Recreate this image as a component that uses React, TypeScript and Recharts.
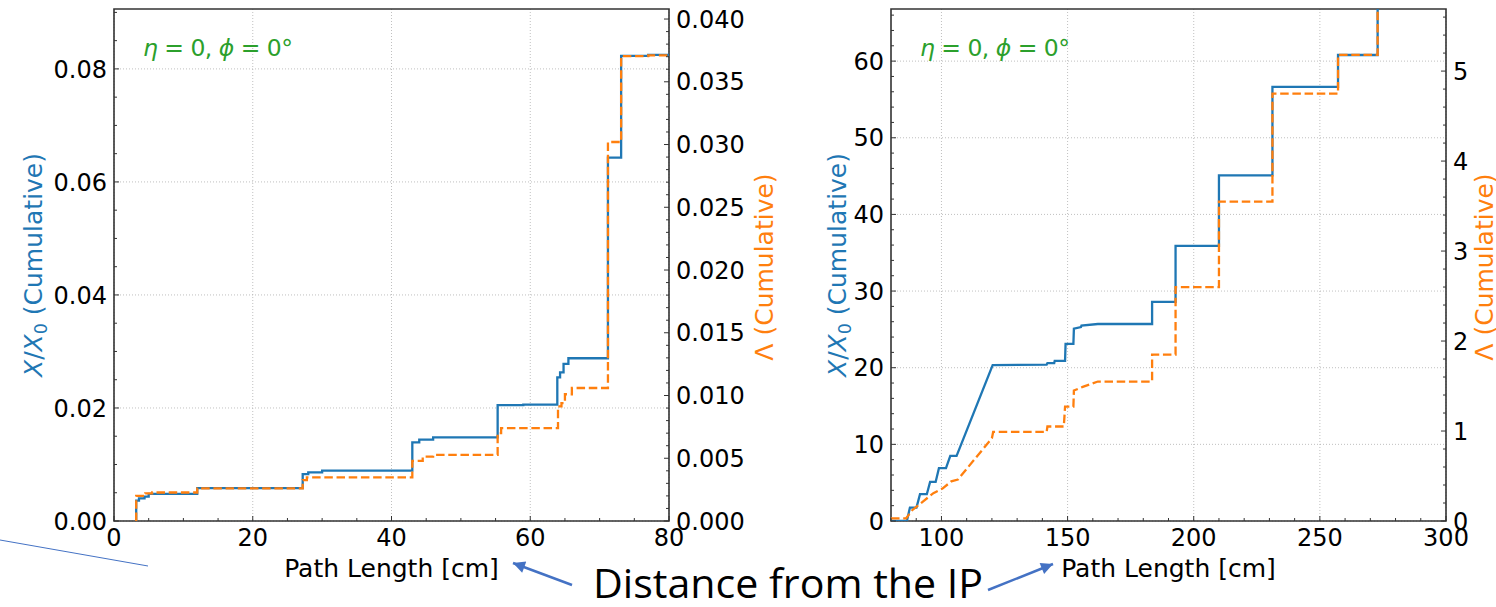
import React from 'react';
import { CartesianGrid, Line, LineChart, ReferenceArea, XAxis, YAxis } from 'recharts';

const BLUE = '#1f77b4';
const ORANGE = '#ff7f0e';
const GREEN = '#2ca02c';
const ARROW = '#4472c4';
const SPINE = '#333333';
const GRID = '#b0b0b0';
const FONT = '"DejaVu Sans", Verdana, sans-serif';

// ---- left panel (0-80 cm): step points, value holds from x onward
const innerPath = [3.2, 3.2, 3.6, 4.4, 5.0, 12.0, 27.2, 28.0, 30.0, 43.0, 44.0, 46.0, 55.3, 59.0, 63.9, 64.3, 64.8, 65.5, 71.2, 73.1, 77.0, 80.0];
const innerX0 = [0, 0.0036, 0.004, 0.0043, 0.0048, 0.0058, 0.0083, 0.0086, 0.0089, 0.0139, 0.0144, 0.0148, 0.0205, 0.0206, 0.0254, 0.0263, 0.0278, 0.0288, 0.0643, 0.0823, 0.0825, 0.0827];
const innerPathL = [3.2, 3.2, 4.5, 5.5, 12.0, 27.2, 27.8, 43.0, 44.5, 46.0, 55.3, 55.8, 64.0, 64.5, 65.0, 66.0, 71.2, 73.1, 77.0, 80.0];
const innerLambda = [0, 0.002, 0.0022, 0.00227, 0.0026, 0.00326, 0.00348, 0.00479, 0.00513, 0.00527, 0.007, 0.0074, 0.00914, 0.0094, 0.0101, 0.0106, 0.0302, 0.03705, 0.0371, 0.0372];

// ---- right panel (80-300 cm): polyline corners
const outerPath = [80, 86.3, 87.5, 90.1, 91.5, 94.2, 95.5, 97.7, 99.0, 101.8, 103.5, 106.0, 120.3, 141.7, 142.0, 144.7, 144.9, 149.0, 149.2, 152.3, 152.5, 155.3, 155.5, 162.0, 183.5, 183.5, 192.8, 192.8, 210.0, 210.0, 231.2, 231.2, 257.2, 257.2, 272.9, 272.9];
const outerX0 = [0, 0, 1.75, 1.75, 3.5, 3.5, 5.1, 5.1, 6.9, 6.9, 8.5, 8.5, 20.35, 20.4, 20.6, 20.6, 20.9, 20.9, 23.1, 23.1, 25.1, 25.3, 25.5, 25.7, 25.7, 28.6, 28.6, 35.9, 35.9, 45.1, 45.1, 56.65, 56.65, 60.8, 60.8, 80];
const outerPathL = [80, 86.0, 88.4, 92.4, 96.8, 100.4, 103.9, 106.5, 120.0, 120.5, 141.7, 142.0, 148.5, 149.0, 152.3, 152.5, 156.0, 162.0, 183.5, 183.5, 192.8, 192.8, 210.0, 210.0, 231.2, 231.2, 257.2, 257.2, 272.9, 272.9];
const outerLambda = [0.03, 0.03, 0.12, 0.21, 0.31, 0.36, 0.44, 0.46, 0.92, 0.99, 0.99, 1.05, 1.05, 1.27, 1.27, 1.45, 1.49, 1.55, 1.55, 1.85, 1.85, 2.6, 2.6, 3.55, 3.55, 4.75, 4.75, 5.18, 5.18, 7];

// ---- axes
const innerXTicks = [0, 20, 40, 60, 80];
const innerX0Ticks = [0, 0.02, 0.04, 0.06, 0.08];
const innerLambdaTicks = [0, 0.005, 0.01, 0.015, 0.02, 0.025, 0.03, 0.035, 0.04];
const outerXTicks = [100, 150, 200, 250, 300];
const outerX0Ticks = [0, 10, 20, 30, 40, 50, 60];
const outerLambdaTicks = [0, 1, 2, 3, 4, 5];

const range = (a: number, b: number, step: number) => {
  const out: number[] = [];
  for (let i = 0; a + i * step <= b + 1e-9; i++) out.push(+(a + i * step).toFixed(6));
  return out;
};

const zip = (xs: number[], ys: number[]) => xs.map((x, i) => ({ x, y: ys[i] }));

const isMajor = (majors: number[], v: number) => majors.some((m) => Math.abs(m - v) < 1e-7);

function makeTick(side: 'bottom' | 'left' | 'right', spine: number, majors: number[], fmt: (v: number) => string) {
  return (props: any) => {
    const { x, y, payload } = props;
    const v = payload.value;
    const major = isMajor(majors, v);
    const len = major ? 5 : 3;
    const text = { fontFamily: FONT, fontSize: 24, fill: '#000' };
    if (side === 'bottom') {
      return (
        <g>
          <line x1={x} x2={x} y1={spine} y2={spine - len} stroke={SPINE} strokeWidth={1} />
          {major && (
            <text x={x} y={spine + 25} textAnchor="middle" {...text}>
              {fmt(v)}
            </text>
          )}
        </g>
      );
    }
    const dir = side === 'left' ? 1 : -1;
    return (
      <g>
        <line x1={spine} x2={spine + dir * len} y1={y} y2={y} stroke={SPINE} strokeWidth={1} />
        {major && (
          <text x={spine - dir * 7} y={y + 8.6} textAnchor={side === 'left' ? 'end' : 'start'} {...text}>
            {fmt(v)}
          </text>
        )}
      </g>
    );
  };
}

function X0Title({ bx }: { bx: number }) {
  return (
    <text x={bx} y={265} transform={`rotate(-90 ${bx} 265)`} textAnchor="middle" fontFamily={FONT} fontSize={25} fill={BLUE}>
      <tspan fontStyle="italic">X</tspan>/<tspan fontStyle="italic">X</tspan>
      <tspan fontSize={17.5} dy={5}>0</tspan>
      <tspan dy={-5}> (Cumulative)</tspan>
    </text>
  );
}

function LambdaTitle({ bx }: { bx: number }) {
  return (
    <text x={bx} y={267} transform={`rotate(-90 ${bx} 267)`} textAnchor="middle" fontFamily={FONT} fontSize={25} fill={ORANGE}>
      Λ (Cumulative)
    </text>
  );
}

function PathTitle({ cx }: { cx: number }) {
  return (
    <text x={cx} y={577} textAnchor="middle" fontFamily={FONT} fontSize={25} fill="#000">
      Path Length [cm]
    </text>
  );
}

type PanelProps = {
  width: number;
  margin: { top: number; left: number; right: number; bottom: number };
  leftW: number;
  rightW: number;
  plot: [number, number];
  xDomain: [number, number];
  x0Top: number;
  lambdaTop: number;
  xTicks: number[];
  xMinor: number[];
  x0Ticks: number[];
  x0Minor: number[];
  lambdaTicks: number[];
  lambdaMinor: number[];
  x0Fmt: (v: number) => string;
  lambdaFmt: (v: number) => string;
  x0Data: { x: number; y: number }[];
  lambdaData: { x: number; y: number }[];
  lineType: 'stepAfter' | 'linear';
  x0TitleX: number;
  lambdaTitleX: number;
};

function Panel(p: PanelProps) {
  return (
    <LineChart width={p.width} height={607} margin={p.margin} style={{ overflow: 'visible' }}>
      <CartesianGrid
        yAxisId="left"
        horizontalValues={p.x0Ticks}
        verticalValues={p.xTicks}
        stroke={GRID}
        strokeWidth={0.8}
        strokeDasharray="1 2"
      />
      <XAxis
        type="number"
        dataKey="x"
        domain={p.xDomain}
        allowDataOverflow
        ticks={p.xMinor}
        interval={0}
        height={40}
        axisLine={false}
        tickLine={false}
        tick={makeTick('bottom', 521, p.xTicks, (v) => String(v))}
        label={() => <PathTitle cx={(p.plot[0] + p.plot[1]) / 2} />}
      />
      <YAxis
        yAxisId="left"
        orientation="left"
        type="number"
        domain={[0, p.x0Top]}
        allowDataOverflow
        ticks={p.x0Minor}
        interval={0}
        width={p.leftW}
        axisLine={false}
        tickLine={false}
        tick={makeTick('left', p.plot[0], p.x0Ticks, p.x0Fmt)}
        label={() => <X0Title bx={p.x0TitleX} />}
      />
      <YAxis
        yAxisId="right"
        orientation="right"
        type="number"
        domain={[0, p.lambdaTop]}
        allowDataOverflow
        ticks={p.lambdaMinor}
        interval={0}
        width={p.rightW}
        axisLine={false}
        tickLine={false}
        tick={makeTick('right', p.plot[1], p.lambdaTicks, p.lambdaFmt)}
        label={() => <LambdaTitle bx={p.lambdaTitleX} />}
      />
      <Line
        yAxisId="left"
        data={p.x0Data}
        dataKey="y"
        type={p.lineType}
        stroke={BLUE}
        strokeWidth={2.3}
        dot={false}
        activeDot={false}
        isAnimationActive={false}
      />
      <Line
        yAxisId="right"
        data={p.lambdaData}
        dataKey="y"
        type={p.lineType}
        stroke={ORANGE}
        strokeWidth={2.3}
        strokeDasharray="8.5 3.7"
        dot={false}
        activeDot={false}
        isAnimationActive={false}
      />
      <ReferenceArea
        yAxisId="left"
        x1={p.xDomain[0]}
        x2={p.xDomain[1]}
        y1={0}
        y2={p.x0Top}
        fill="none"
        stroke={SPINE}
        strokeWidth={1.6}
      />
    </LineChart>
  );
}

function EtaPhi({ x }: { x: number }) {
  return (
    <text x={x} y={56} fontFamily={FONT} fontSize={23.5} fill={GREEN} textLength={150} lengthAdjust="spacing">
      <tspan fontStyle="italic">η</tspan>
      {' = 0, '}
      <tspan fontStyle="italic">ϕ</tspan>
      {' = 0°'}
    </text>
  );
}

export default function App() {
  return (
    <div style={{ position: 'absolute', left: 0, top: 0, width: 1496, height: 607, background: '#fff', overflow: 'hidden' }}>
      <div style={{ position: 'absolute', left: 0, top: 0 }}>
        <Panel
          width={800}
          margin={{ top: 9, left: 54, right: 71, bottom: 46 }}
          leftW={60}
          rightW={60}
          plot={[114, 669]}
          xDomain={[0, 80]}
          x0Top={0.0906}
          lambdaTop={0.0408}
          xTicks={innerXTicks}
          xMinor={range(0, 80, 5)}
          x0Ticks={innerX0Ticks}
          x0Minor={range(0, 0.09, 0.005)}
          lambdaTicks={innerLambdaTicks}
          lambdaMinor={range(0, 0.04, 0.001)}
          x0Fmt={(v) => v.toFixed(2)}
          lambdaFmt={(v) => v.toFixed(3)}
          x0Data={zip(innerPath, innerX0)}
          lambdaData={zip(innerPathL, innerLambda)}
          lineType="stepAfter"
          x0TitleX={42}
          lambdaTitleX={773}
        />
      </div>
      <div style={{ position: 'absolute', left: 800, top: 0 }}>
        <Panel
          width={696}
          margin={{ top: 9, left: 31, right: 10, bottom: 46 }}
          leftW={60}
          rightW={40}
          plot={[91, 646]}
          xDomain={[80, 300]}
          x0Top={66.8}
          lambdaTop={5.69}
          xTicks={outerXTicks}
          xMinor={range(80, 300, 10)}
          x0Ticks={outerX0Ticks}
          x0Minor={range(0, 66, 2)}
          lambdaTicks={outerLambdaTicks}
          lambdaMinor={range(0, 5.6, 0.2)}
          x0Fmt={(v) => String(v)}
          lambdaFmt={(v) => String(v)}
          x0Data={zip(outerPath, outerX0)}
          lambdaData={zip(outerPathL, outerLambda)}
          lineType="linear"
          x0TitleX={46}
          lambdaTitleX={693}
        />
      </div>
      <svg width={1496} height={607} style={{ position: 'absolute', left: 0, top: 0, pointerEvents: 'none' }}>
        <defs>
          <marker id="head" viewBox="0 0 10 10" refX="10" refY="5" markerWidth="14" markerHeight="12" markerUnits="userSpaceOnUse" orient="auto">
            <path d="M0,0 L10,5 L0,10 z" fill={ARROW} />
          </marker>
        </defs>
        <EtaPhi x={143} />
        <EtaPhi x={920} />
        <line x1={0} y1={540} x2={148} y2={566} stroke={ARROW} strokeWidth={1} />
        <line x1={572} y1={585} x2={513} y2={563} stroke={ARROW} strokeWidth={2.5} markerEnd="url(#head)" />
        <line x1={988} y1={590} x2={1053} y2={564} stroke={ARROW} strokeWidth={2.5} markerEnd="url(#head)" />
        <text x={593} y={598} fontFamily='"Open Sans", "Liberation Sans", sans-serif' fontSize={40} textLength={390} lengthAdjust="spacingAndGlyphs" fill="#000">
          Distance from the IP
        </text>
      </svg>
    </div>
  );
}
